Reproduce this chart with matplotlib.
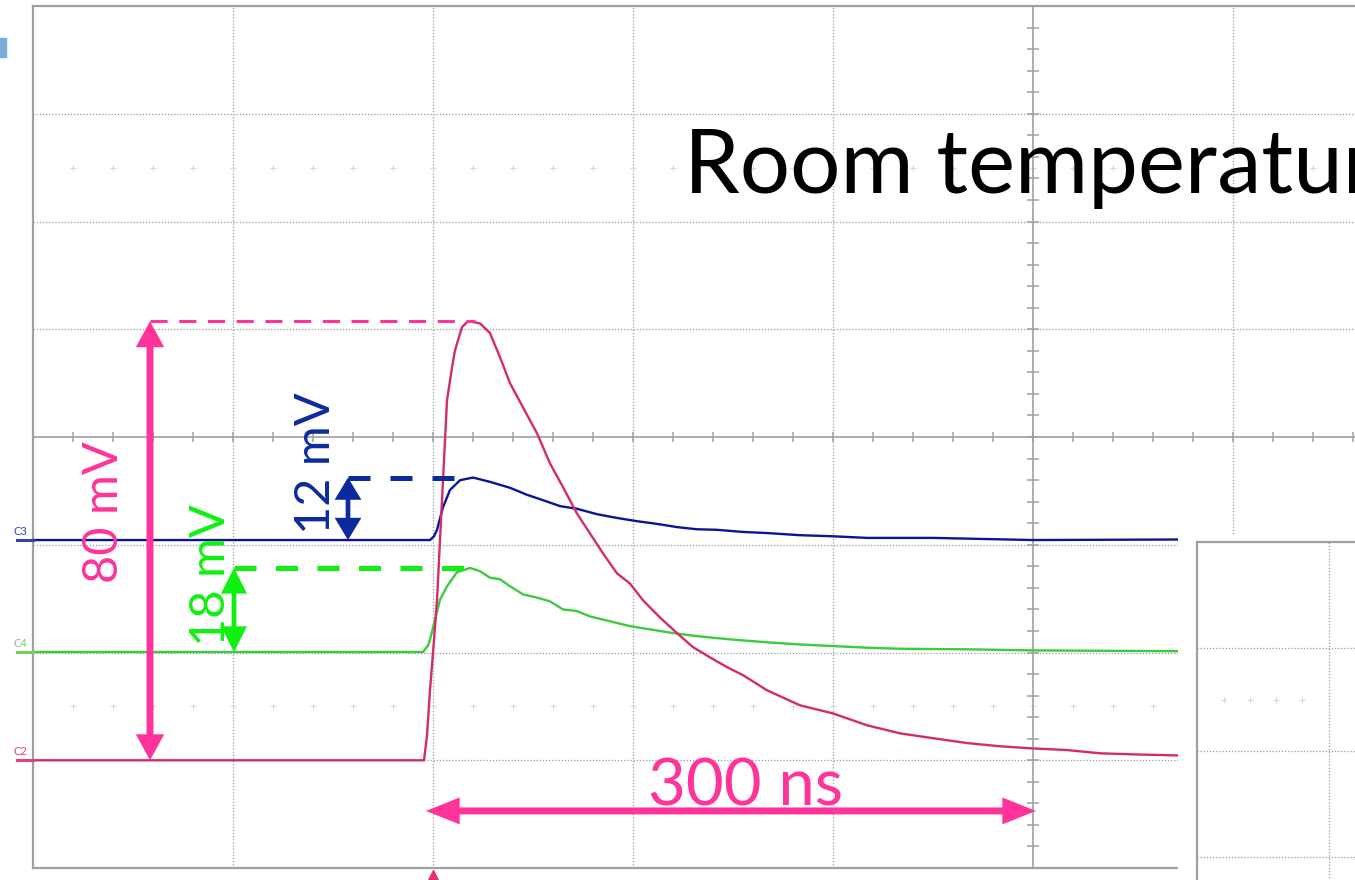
import matplotlib
matplotlib.use('Agg')
import matplotlib.pyplot as plt
from matplotlib.patches import Rectangle
import numpy as np

# scope traces, time in ns (trigger at 0), amplitude in mV above channel baseline
c2_t = [-200, -4.5, -3, -1.5, 0.5, 2, 4.5, 7, 9.5, 11, 14.5, 17.5, 23.5, 28.5, 33.5, 38.5,
        45, 52, 58.5, 65, 72, 78.5, 85, 92, 98.5, 105, 113.5, 122, 130, 138.5, 147, 155,
        167, 183.5, 200, 217, 233.5, 250, 267, 283.5, 300, 317, 333.5, 350, 372.5]
c2_mv = [0, 0, 4.6, 13.0, 22.3, 29.7, 48.3, 66.8, 72.9, 76.1, 80.4, 81.5, 81.1, 79.3, 74.8, 70.0,
         65.5, 60.7, 55.1, 50.7, 45.8, 42.1, 38.4, 34.7, 32.8, 29.7, 26.5, 23.6, 21.0, 19.1, 17.3, 15.8,
         13.0, 10.2, 8.7, 6.5, 5.0, 4.1, 3.2, 2.6, 2.2, 1.9, 1.3, 1.1, 0.9]

c3_t = [-200, -1.5, 0.5, 2, 5, 8.5, 13.5, 20, 28.5, 38.5, 47, 55, 63.5, 72, 82, 92, 102,
        112, 122, 132, 142, 155, 167, 183.5, 200, 217, 250, 300, 372.5]
c3_mv = [0, 0, 0.7, 1.9, 6.1, 9.3, 11.1, 11.6, 10.8, 9.7, 8.4, 7.4, 6.3, 5.8, 4.8, 4.1, 3.5,
         3.0, 2.4, 2.0, 1.9, 1.5, 1.3, 0.9, 0.7, 0.4, 0.4, 0.0, 0.1]

c4_t = [-200, -5, -2.5, -1.5, 1, 3.5, 7, 12, 18.5, 23.5, 28.5, 33.5, 38.5, 45, 52, 58.5, 65,
        72, 78.5, 88.5, 98.5, 108.5, 118.5, 128.5, 138.5, 150, 167, 183.5, 200, 217, 233.5,
        267, 300, 372.5]
c4_mv = [0, 0, 1.2, 2.3, 6.0, 9.7, 12.2, 14.8, 15.6, 15.0, 13.8, 13.5, 12.2, 10.7, 10.1, 9.4, 7.9,
         7.6, 6.6, 5.7, 4.8, 4.2, 3.6, 3.1, 2.7, 2.3, 1.8, 1.4, 1.1, 0.8, 0.6,
         0.5, 0.3, 0.15]

# channel settings: baseline offset (div) and scale (mV/div)
channels = ['C2', 'C3', 'C4']
offsets = [-3.0, -0.956, -1.995]
mv_per_div = [20, 20, 20]

labels_mv = ['80 mV', '12 mV', '18 mV']
label_time = '300 ns'
title = 'Room temperature'

pink_tr = '#D42A6E'
blue_tr = '#0A1496'
green_tr = '#3DCB3D'
pink = '#FF3399'
blue = '#0A2A9E'
green = '#10F010'
grid_c = '#9A9A9A'
FONT = ['Lato', 'DejaVu Sans']


def to_div(mv, ch):
    return offsets[ch] + np.asarray(mv) / mv_per_div[ch]


fig = plt.figure(figsize=(13.55, 8.8), dpi=100)
ax = fig.add_axes([0, 0, 1, 1])
ax.set_xlim(-216.5, 461.0)
ax.set_ylim(-4.111, 4.056)
ax.axis('off')

# little blue square of the slide
fig.patches.append(Rectangle((0, 1 - 57 / 880), 6 / 1355, 19 / 880,
                             transform=fig.transFigure, color='#7BADD8'))

# ---- main scope grid ----
xr = 470
for t in [-100, 0, 100, 200, 400]:
    ax.plot([t, t], [-4, 4], color=grid_c, lw=0.9, ls=(0, (1, 1.5)), zorder=1)
for d in [-3, -2, -1, 1, 2, 3]:
    ax.plot([-200, xr], [d, d], color=grid_c, lw=0.9, ls=(0, (1, 1.5)), zorder=1)
# border
ax.plot([-200, -200], [-4, 4], color='#A0A0A0', lw=1.6, zorder=2)
ax.plot([-200, xr], [4, 4], color='#A0A0A0', lw=1.6, zorder=2)
ax.plot([-200, xr], [-4, -4], color='#A0A0A0', lw=1.6, zorder=2)
# centre axes with ticks
ax.plot([-200, xr], [0, 0], color='#A0A0A0', lw=1.2, zorder=2)
ax.plot([300, 300], [-4, 4], color='#A0A0A0', lw=1.2, zorder=2)
tx = np.arange(-180, 461, 20)
ax.plot(tx, np.zeros_like(tx), '|', color='#A0A0A0', ms=7, mew=1.1, zorder=2)
ty = np.arange(-3.8, 3.81, 0.2)
ax.plot(np.full_like(ty, 300), ty, '_', color='#A0A0A0', ms=8, mew=1.1, zorder=2)
# faint cross markers
mx = np.arange(-180, 461, 20)
for d in [2.5, -2.5]:
    ax.plot(mx, np.full_like(mx, d, dtype=float), '+', color='#D8D8D8', ms=5, mew=0.8, zorder=1)

# ---- traces ----
ax.plot(c3_t, to_div(c3_mv, 1), color=blue_tr, lw=1.7, zorder=3)
ax.plot(c4_t, to_div(c4_mv, 2), color=green_tr, lw=1.7, zorder=3)
ax.plot(c2_t, to_div(c2_mv, 0), color=pink_tr, lw=1.7, zorder=3)

# channel labels on the left
lab_cols = ['#DD4477', '#3344AA', '#77CC66']
for i, ch in enumerate(channels):
    ax.text(-210, offsets[i] + 0.03, ch, color=lab_cols[i], fontsize=8,
            ha='left', va='bottom', family=FONT)
    ax.plot([-208, -200], [offsets[i], offsets[i]], color=lab_cols[i], lw=2.2, zorder=3)

# trigger marker
ax.plot([0], [-4.06], '^', color='#E8306A', ms=7, zorder=3, clip_on=False)

# ---- overlay of second screenshot (bottom right) ----
ax.add_patch(Rectangle((372.5, -4.3), 100, 3.39, facecolor='white', edgecolor='none', zorder=5))
ax.plot([382, 382], [-4.3, -0.974], color='#A0A0A0', lw=1.6, zorder=6)
ax.plot([382, xr], [-0.974, -0.974], color='#A0A0A0', lw=1.6, zorder=6)
ax.plot([448, 448], [-4.3, -0.974], color=grid_c, lw=0.9, ls=(0, (1, 1.5)), zorder=6)
for d in [-1.958, -2.914, -3.898]:
    ax.plot([382, xr], [d, d], color=grid_c, lw=0.9, ls=(0, (1, 1.5)), zorder=6)
ox = np.array([395.5, 408.5, 421.5, 434.5])
ax.plot(ox, np.full_like(ox, -2.44), '+', color='#D8D8D8', ms=5, mew=0.8, zorder=6)

# ---- annotations ----
arrow_kw = dict(shrinkA=0, shrinkB=0, joinstyle='miter', capstyle='butt')

# 80 mV (pink)
y0 = offsets[0]
y1 = to_div(max(c2_mv), 0)
ax.plot([-141.5, 21], [y1, y1], color=pink, lw=2.2, ls=(0, (5.6, 3.8)), zorder=7)
ax.annotate('', xy=(-141.5, y1), xytext=(-141.5, y0),
            arrowprops=dict(arrowstyle='<|-|>,head_length=0.55,head_width=0.3',
                            mutation_scale=20, lw=5, color=pink, **arrow_kw), zorder=7)
ax.text(-164.5, -0.696, labels_mv[0], color=pink, fontsize=35, rotation=90,
        ha='center', va='center', family=FONT, zorder=8)

# 12 mV (blue)
y0 = offsets[1]
y1 = to_div(max(c3_mv), 1)
ax.plot([-42.5, 11], [y1, y1], color=blue, lw=3.6, ls=(0, (4.4, 4.0)), zorder=7)
ax.annotate('', xy=(-42.5, y1), xytext=(-42.5, y0),
            arrowprops=dict(arrowstyle='<|-|>,head_length=0.55,head_width=0.33',
                            mutation_scale=20, lw=3.4, color=blue, **arrow_kw), zorder=7)
ax.text(-58.5, -0.241, labels_mv[1], color=blue, fontsize=35, rotation=90,
        ha='center', va='center', family=FONT, zorder=8)

# 18 mV (green)
y0 = offsets[2]
y1 = to_div(max(c4_mv), 2)
ax.plot([-99.5, 16], [y1, y1], color=green, lw=3.6, ls=(0, (4.4, 3.9)), zorder=7)
ax.annotate('', xy=(-99.5, y1), xytext=(-99.5, y0),
            arrowprops=dict(arrowstyle='<|-|>,head_length=0.65,head_width=0.33',
                            mutation_scale=20, lw=3.4, color=green, **arrow_kw), zorder=7)
ax.text(-111, -1.28, labels_mv[2], color=green, fontsize=35, rotation=90,
        ha='center', va='center', family=FONT, zorder=8)

# 300 ns (pink)
ax.annotate('', xy=(-3.5, -3.47), xytext=(301.5, -3.47),
            arrowprops=dict(arrowstyle='<|-|>,head_length=0.75,head_width=0.3',
                            mutation_scale=20, lw=5, color=pink, **arrow_kw), zorder=7)
ax.text(156, -3.415, label_time, color=pink, fontsize=47,
        ha='center', va='baseline', family=FONT, zorder=8)

# title text (runs off the right edge, as on the slide)
ax.text(125.5, 2.264, title, color='black', fontsize=64,
        ha='left', va='baseline', family=FONT, zorder=8)

fig.savefig('out.png', dpi=100)
